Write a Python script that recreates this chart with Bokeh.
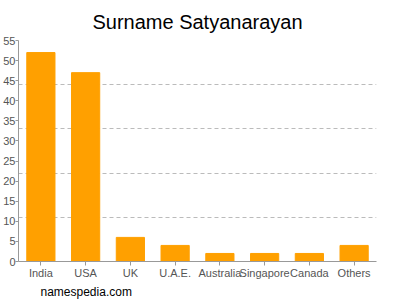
from bokeh.plotting import figure
from bokeh.models import Range1d, FixedTicker, Title
from bokeh.embed import file_html
from bokeh.resources import INLINE

countries = ["India", "USA", "UK", "U.A.E.", "Australia", "Singapore", "Canada", "Others"]
counts = [52, 47, 6, 4, 2, 2, 2, 4]
y_ticks = list(range(0, 56, 5))
grid_ticks = [11, 22, 33, 44, 55]

p = figure(x_range=countries, width=400, height=300, output_backend="svg",
           toolbar_location=None, min_border_left=10, min_border_right=24,
           min_border_top=40, min_border_bottom=39)
p.y_range = Range1d(0, 55)
p.x_range.range_padding = 0
p.vbar(x=countries, top=counts, width=0.63, color="#FFA000")

p.title.text = "Surname Satyanarayan"
p.title.align = "center"
p.title.text_font = "Liberation Sans"
p.title.text_font_size = "20px"
p.title.text_font_style = "normal"
p.title.text_color = "#000000"
p.title.standoff = 16

wm = Title(text="namespedia.com", align="left", offset=22, standoff=2,
           text_font="Liberation Sans", text_font_size="12px",
           text_font_style="normal", text_color="#000000")
p.add_layout(wm, "below")

p.outline_line_color = None
p.xgrid.grid_line_color = None
p.ygrid.ticker = FixedTicker(ticks=grid_ticks)
p.ygrid.grid_line_color = "#bbbbbb"
p.ygrid.grid_line_dash = "4 3"

p.yaxis.ticker = FixedTicker(ticks=y_ticks)
for ax in (p.xaxis, p.yaxis):
    ax.axis_line_color = "#999999"
    ax.major_tick_line_color = "#999999"
    ax.minor_tick_line_color = None
    ax.major_label_text_font = "Liberation Sans"
    ax.major_label_text_font_size = "11px"
    ax.major_label_text_color = "#555555"
    ax.major_tick_in = 0
    ax.major_tick_out = 4
    ax.major_label_standoff = 1
p.yaxis.major_label_standoff = 0
p.yaxis.major_tick_out = 3

open("out.html", "w").write(file_html(p, INLINE))
